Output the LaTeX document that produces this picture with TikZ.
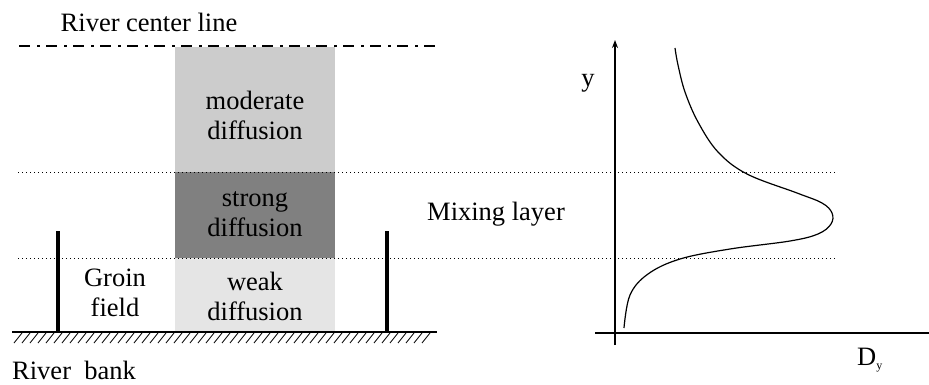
\documentclass[tikz,border=0pt]{standalone}
\usepackage{fontspec}
\setmainfont{Liberation Serif}
\usetikzlibrary{arrows.meta}

\tikzset{
  lbl/.style={font=\fontsize{26.5}{30}\selectfont, align=center, inner sep=0pt},
  guide/.style={line width=1, dash pattern=on 1 off 3},
  wall/.style={line width=3.2},
  ground/.style={line width=2},
  centre/.style={line width=2, dash pattern=on 11 off 7 on 3 off 6},
  axis/.style={line width=1.3}
}

\begin{document}
\begin{tikzpicture}[x=1pt,y=-1pt]
\useasboundingbox (0,0) rectangle (929,385);
% zones
\fill[black!20] (175,47) rectangle (335,172);
\fill[black!50] (175,172) rectangle (335,258);
\fill[black!10] (175,258) rectangle (335,332);
\node[lbl] (moderate) at (255,115) {moderate\\diffusion};
\node[lbl] (strong) at (255,214) {strong\\diffusion};
\node[lbl] (weak) at (255,296) {weak\\diffusion};
% center line
\node[lbl] (centerlbl) at (149,22) {River center line};
\draw[centre] (19,46) -- (438,46);
% mixing layer limits
\draw[guide] (18,172) -- (838,172);
\draw[guide] (18,258) -- (838,258);
\node[lbl] (mixlbl) at (496,214) {Mixing layer};
% bank and groins
\draw[ground] (12,332) -- (437,332);
\foreach \x in {14,22,...,422} \draw[line width=0.8] (\x,343) -- ++(8,-10);
\draw[wall] (58,231) -- (58,332);
\draw[wall] (387,231) -- (387,332);
\node[lbl] (groinlbl) at (115,293) {Groin\\field};
\node[lbl, anchor=west] (banklbl) at (12,370) {River\ \ bank};
% profile
\coordinate (O) at (615,333);
\draw[axis, -{Stealth[length=8,width=6]}] (615,345) -- (615,40);
\draw[axis] (595,333) -- (929,333);
\node[lbl] (ylbl) at (588,83) {y};
\node[lbl] (dlbl) at (870,360) {D\textsubscript{\fontsize{12}{12}\selectfont y}};
\draw[line width=1.2] plot[smooth, tension=0.6] coordinates {
  (624,328) (630,295) (648,274) (680,259) (730,249) (790,241) (818,234)
  (831,224) (832,213) (822,203) (797,193) (747,174) (718,152) (698,122)
  (685,92) (678,65) (675,48)};
\end{tikzpicture}
\end{document}
